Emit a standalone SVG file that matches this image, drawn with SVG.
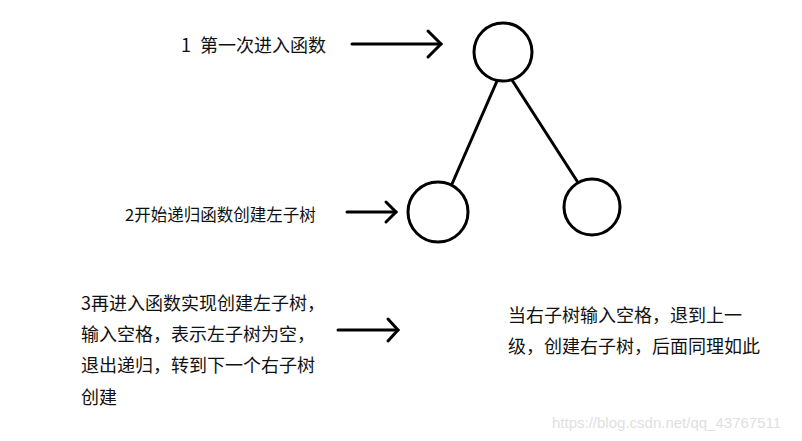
<svg xmlns="http://www.w3.org/2000/svg" width="802" height="441" viewBox="0 0 802 441">
<style>
.t{font-family:"Noto Sans CJK SC","Noto Sans",sans-serif;font-size:18px;fill:#111}
.n{fill:#fff;stroke:#000;stroke-width:3}
.c{stroke:#000;stroke-width:3;fill:none;stroke-linecap:round}
.a{stroke:#000;stroke-width:3;fill:none;stroke-linecap:round;stroke-linejoin:miter}
.w{font-family:"Liberation Sans",Arial,sans-serif;font-size:15px;fill:#e0e0e0}
</style>
<rect width="802" height="441" fill="#fff"/>
<g id="connectors">
<line class="c" x1="497" y1="81" x2="452" y2="184"/>
<line class="c" x1="512" y1="80" x2="577" y2="181"/>
<g id="arrow1"><line class="a" x1="352" y1="44" x2="441" y2="44"/><polyline class="a" points="428,31 441,44 428,57"/></g>
<g id="arrow2"><line class="a" x1="347" y1="212" x2="396" y2="212"/><polyline class="a" points="386,202 396,212 386,222"/></g>
<g id="arrow3"><line class="a" x1="338" y1="330" x2="398" y2="330"/><polyline class="a" points="388,319 398,330 388,341"/></g>
</g>
<g id="node-root"><circle class="n" cx="503" cy="52" r="29"/></g>
<g id="node-left"><circle class="n" cx="438" cy="212" r="30"/></g>
<g id="node-right"><circle class="n" cx="592" cy="207" r="28"/></g>
<g id="label1"><text class="t" x="181" y="52">1<tspan x="200">第一次进入函数</tspan></text></g>
<g id="label2"><text class="t" x="125" y="221" style="font-size:16.5px">2开始递归函数创建左子树</text></g>
<g id="label3">
<text class="t" x="81" y="310">3再进入函数实现创建左子树，</text>
<text class="t" x="81" y="341">输入空格，表示左子树为空，</text>
<text class="t" x="81" y="372">退出递归，转到下一个右子树</text>
<text class="t" x="81" y="404">创建</text>
</g>
<g id="label4">
<text class="t" x="508" y="322">当右子树输入空格，退到上一</text>
<text class="t" x="508" y="353">级，创建右子树，后面同理如此</text>
</g>
<text class="w" x="552" y="428">https://blog.csdn.net/qq_43767511</text>
</svg>
